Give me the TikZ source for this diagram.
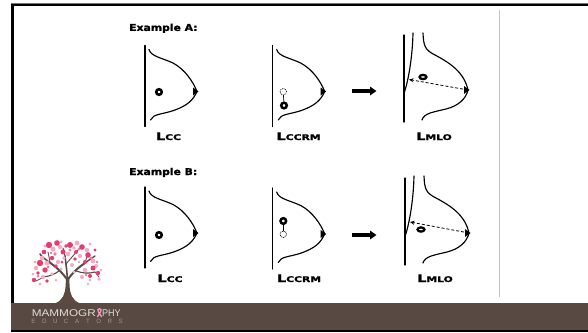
\documentclass[tikz,border=0pt]{standalone}
\usepackage{fontspec}
\setmainfont{DejaVu Sans}
\newfontfamily\heavyfont{DejaVu Sans Bold}[FakeBold=1.6]
\newfontfamily\logofont{Liberation Sans}
\usetikzlibrary{arrows.meta,shapes.geometric}

\definecolor{band}{HTML}{584942}
\definecolor{bark}{HTML}{5C4A41}
\definecolor{hotpink}{HTML}{E63B72}
\definecolor{softpink}{HTML}{F5ABC4}
\definecolor{midpink}{HTML}{EE7DA3}
\definecolor{ashpink}{HTML}{CDB9BE}
\definecolor{ribbonpink}{HTML}{F29BBE}
\definecolor{logotext}{HTML}{E2DCD8}
\definecolor{logosub}{HTML}{A2978F}
\definecolor{divider}{HTML}{C4C4C4}

% smaller capitals used after the leading L of each view name
\newcommand\capsmall[1]{{\fontsize{7.8}{8}\selectfont #1}}
\newcommand\viewname[1]{\scalebox{1.38}[1]{#1}}

\tikzset{
  outline/.style={line width=1.15pt, line cap=round},
  ring/.style={circle, draw, line width=2.5pt, minimum size=5.6pt, inner sep=0pt, fill=white},
  ghost/.style={circle, draw, line width=0.6pt, dash pattern=on 1pt off 0.8pt, minimum size=6.5pt, inner sep=0pt},
  mloring/.style={ellipse, draw, line width=2.3pt, minimum width=6.8pt, minimum height=4.2pt, inner sep=0pt, fill=white},
  linkline/.style={line width=0.7pt},
  bigarrow/.style={line width=3.2pt, -{Triangle[length=6.5pt,width=8.5pt]}},
  dasharrow/.style={line width=0.8pt, dash pattern=on 3pt off 2pt, -{Stealth[length=4.5pt,width=4pt]}},
  heading/.style={font=\heavyfont\fontsize{9.4}{11}\selectfont, inner sep=0pt, anchor=base west},
  viewlbl/.style={font=\heavyfont\fontsize{10.5}{12}\selectfont, inner sep=0pt, anchor=base},
  logoword/.style={font=\logofont\fontsize{9.8}{11}\selectfont, text=logotext, inner sep=0pt, anchor=base west},
  logosmall/.style={font=\logofont\fontsize{6.2}{7}\selectfont, text=logosub, inner sep=0pt},
  twig/.style={draw=bark, line cap=round},
  % cranio-caudal outline: chest wall line and breast contour, nipple on the right
  ccview/.pic={
    \draw[outline] (0,-46) -- (0,35);
    \draw[outline] (4,-42) .. controls (6,-35) and (16,-34) .. (28,-28.5)
      .. controls (40,-22) and (48,-10) .. (52,0)
      .. controls (48,9) and (42,14) .. (30,18.5)
      .. controls (18,23) and (8,22) .. (5.5,28.5);
    \fill (48,-4) .. controls (50.5,-1.5) .. (53.5,0) .. controls (50.5,1.5) .. (48,4) -- cycle;
    \coordinate (-nip) at (52,0);
  },
  % medio-lateral oblique outline: image edge, pectoral line and contour
  mloview/.pic={
    \draw[outline] (0,-55) -- (0,32);
    \draw[outline] (9,-57) .. controls (8.5,-35) and (5,-12) .. (0.5,2);
    \draw[outline] (19,-57) .. controls (19.5,-44) and (21,-40) .. (31,-35)
      .. controls (46,-27) and (60,-18) .. (64,0)
      .. controls (62,9) and (54,16) .. (42,19)
      .. controls (30,22) and (20,23) .. (18,30);
    \fill (60,-4) .. controls (62.5,-1.5) .. (65.5,0) .. controls (62.5,1.5) .. (60,4) -- cycle;
    \coordinate (-nip) at (64,0);
  },
}

\begin{document}
\begin{tikzpicture}[x=1pt,y=-1pt]
\useasboundingbox (0,0) rectangle (588,332);
\fill[white] (0,0) rectangle (588,332);

% slide frame
\fill[black!55] (11,3) rectangle (588,3.6);
\fill[black] (11,3.6) rectangle (588,6.3);
\fill[black] (11,3.6) rectangle (14,332);
\fill[band] (11,303) rectangle (588,330);
\fill[black] (11,330) rectangle (588,332);
\draw[divider, line width=0.9pt] (499.5,10) -- (499.5,297);

% ---------------- Example A ----------------
\node[heading] (a-title) at (129,30.9) {\scalebox{1.15}[1]{Example A:}};

\pic (alcc) at (145,91.5) {ccview};
\node[ring] (alcc-mass) at (159,92) {};
\node[viewlbl] (alcc-lbl) at (168.5,140) {\viewname{L\capsmall{CC}}};

\pic (arm) at (272.7,91.5) {ccview};
\node[ghost] (arm-old) at (283.3,91.7) {};
\node[ring] (arm-mass) at (284,105.5) {};
\draw[linkline] (arm-old) -- (arm-mass);
\node[viewlbl] (arm-lbl) at (298.5,140) {\viewname{L\capsmall{CCRM}}};

\coordinate (a-arr-s) at (352,91);
\coordinate (a-arr-e) at (376.5,91);
\draw[bigarrow] (a-arr-s) -- (a-arr-e);

\pic (amlo) at (404,90) {mloview};
\node[mloring] (amlo-mass) at (423,77) {};
\coordinate (amlo-tip) at (409,79.5);
\draw[dasharrow] (amlo-nip) -- (amlo-tip);
\node[viewlbl] (amlo-lbl) at (434,140) {\viewname{L\capsmall{MLO}}};

% ---------------- Example B ----------------
\node[heading] (b-title) at (129,175) {\scalebox{1.15}[1]{Example B:}};

\pic (blcc) at (145,233) {ccview};
\node[ring] (blcc-mass) at (159,235) {};
\node[viewlbl] (blcc-lbl) at (170,282) {\viewname{L\capsmall{CC}}};

\pic (brm) at (272.7,234) {ccview};
\node[ring] (brm-mass) at (283.3,221) {};
\node[ghost] (brm-old) at (283.3,234.3) {};
\draw[linkline] (brm-mass) -- (brm-old);
\node[viewlbl] (brm-lbl) at (299,282) {\viewname{L\capsmall{CCRM}}};

\coordinate (b-arr-s) at (352,235);
\coordinate (b-arr-e) at (376.5,235);
\draw[bigarrow] (b-arr-s) -- (b-arr-e);

\pic (bmlo) at (405,233) {mloview};
\node[mloring] (bmlo-mass) at (421,229.5) {};
\coordinate (bmlo-tip) at (410,222);
\draw[dasharrow] (bmlo-nip) -- (bmlo-tip);
\node[viewlbl] (bmlo-lbl) at (435,282) {\viewname{L\capsmall{MLO}}};

% ---------------- logo: blossom tree ----------------
\fill[bark] (55,303.5) .. controls (63,300) and (65,294) .. (65.6,286) -- (66,278)
  -- (69.2,278) -- (69.6,286) .. controls (70,294) and (72,300) .. (80,303.5) -- cycle;
\draw[twig, line width=2.0pt] (67.5,280) .. controls (62,272) and (55,266) .. (49,262);
\draw[twig, line width=1.5pt] (49,262) .. controls (45,259) and (42,257) .. (40,254);
\draw[twig, line width=2.0pt] (67.5,280) .. controls (73,272) and (79,267) .. (85,263);
\draw[twig, line width=1.4pt] (85,263) .. controls (89,260) and (92,258) .. (95,256);
\draw[twig, line width=1.6pt] (67.5,280) .. controls (67,272) and (66,264) .. (65,256);
\draw[twig, line width=1.0pt] (65,256) -- (63,248);
\draw[twig, line width=1.1pt] (59,271) .. controls (55,274) and (50,276) .. (44,277);
\draw[twig, line width=1.1pt] (76,271) .. controls (82,273) and (88,274) .. (95,272);
\draw[twig, line width=0.9pt] (66,264) .. controls (70,259) and (74,255) .. (78,250);
\draw[twig, line width=0.8pt] (50,262) -- (48,252);
\draw[twig, line width=0.8pt] (85,263) -- (88,253);
\draw[twig, line width=0.7pt] (44,277) -- (36,281);
\draw[twig, line width=0.7pt] (95,272) -- (99,277);

\foreach \x/\y/\r in {53/249/2.6, 60/247/2.2, 77/243/2.4, 87/250/2.2, 42/258/2.3,
  47/263/2.4, 36/268/2.2, 43/277/2.2, 93/261/2.4, 96/266/2.0, 85/270/2.2,
  82/277/2.0, 68/254/2.3, 58/262/2.1, 72/265/2.0, 52/274/1.9, 99/279/1.9,
  40/284/1.6, 64/258/1.8, 80/256/2.1, 90/280/1.6, 56/280/1.5, 74/248/1.8,
  45/246/1.7, 90/244/1.6, 101/270/1.5, 33/274/1.5, 61/242/1.6}
  \fill[softpink] (\x,\y) circle[radius=\r];
\foreach \x/\y/\r in {55/254/1.8, 79/249/1.7, 91/258/1.7, 48/267/1.7, 70/250/1.6,
  38/276/1.5, 86/275/1.4, 51/253/1.4, 97/262/1.3}
  \fill[midpink] (\x,\y) circle[radius=\r];
\foreach \x/\y/\r in {61/269/1.7, 74/272/1.6, 35/262/1.5, 88/284/1.3, 79/262/1.3}
  \fill[ashpink] (\x,\y) circle[radius=\r];
\foreach \x/\y/\r in {49/245/3.2, 57/243/2.8, 70/245/3.0, 82/247/2.8, 63/252/2.5,
  44/252/2.3, 40/263/3.2, 45/270/2.7, 34/280/2.2, 88/255/2.8, 93/268/2.5,
  98/273/2.2, 76/252/2.0, 52/258/2.2, 85/262/2.0, 38/273/1.9, 90/276/2.0,
  56/266/1.9, 66/246/1.9, 75/259/1.8, 47/281/1.8, 95/250/1.6, 62/262/1.5}
  \fill[hotpink] (\x,\y) circle[radius=\r];

% ---------------- logo: lettering ----------------
\node[logoword] (logo-left) at (31.6,316) {\scalebox{1.2}[1]{MAMMOGR}};
\draw[ribbonpink, line width=1.3pt] (97.3,317) -- (100.6,311.8)
  .. controls (101.8,310) and (101,308.8) .. (99.5,308.8)
  .. controls (98,308.8) and (97.2,310) .. (98.4,311.8) -- (101.7,317);
\node[logoword] (logo-right) at (101.8,316) {\scalebox{0.92}[1]{PHY}};
\foreach \ch [count=\i from 0] in {E,D,U,C,A,T,O,R,S}
  \node[logosmall] (edu-\i) at (33.5+\i*10.9,321) {\ch};

\end{tikzpicture}
\end{document}
